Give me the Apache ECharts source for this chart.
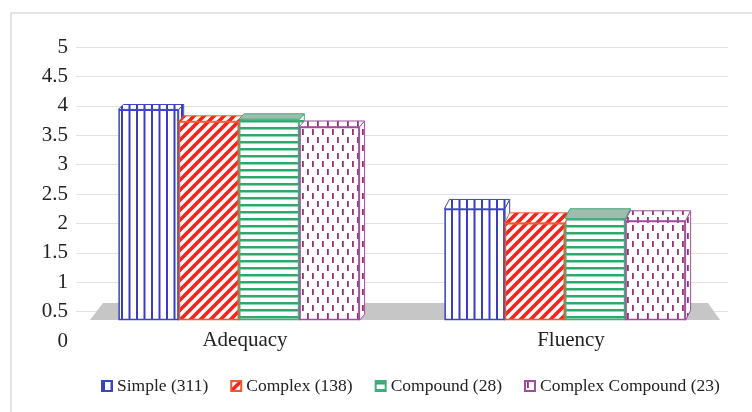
<!DOCTYPE html>
<html>
<head>
<meta charset="utf-8">
<script src="https://cdn.jsdelivr.net/npm/echarts@6/dist/echarts.min.js"></script>
<style>
    html, body { margin: 0; padding: 0; background: #fff; }
    #chart { width: 752px; height: 412px; }
</style>
</head>
<body>
<div id="chart"></div>
<script>
    // data
    var categories = ['Adequacy', 'Fluency'];
    var seriesNames = ['Simple (311)', 'Complex (138)', 'Compound (28)', 'Complex Compound (23)'];
    var simpleData = [3.90, 2.06];
    var complexData = [3.68, 1.80];
    var compoundData = [3.72, 1.88];
    var complexCompoundData = [3.58, 1.84];
    var yTicks = [0, 0.5, 1, 1.5, 2, 2.5, 3, 3.5, 4, 4.5, 5];

    var allData = [simpleData, complexData, compoundData, complexCompoundData];
    var CAT_GAP = 0.26;
    var FONT = '"Liberation Serif", "DejaVu Serif", serif';

    // small canvases used as fill patterns
    function makePattern(w, h, paint) {
        var c = document.createElement('canvas');
        c.width = w;
        c.height = h;
        var ctx = c.getContext('2d');
        ctx.fillStyle = '#ffffff';
        ctx.fillRect(0, 0, w, h);
        paint(ctx);
        return {image: c, repeat: 'repeat'};
    }

    var patterns = [
        // vertical blue lines
        makePattern(15, 4, function (ctx) {
            ctx.fillStyle = '#3b3cc0';
            ctx.fillRect(1, 0, 2, 4);
            ctx.fillRect(8.5, 0, 2, 4);
        }),
        // red diagonal stripes
        makePattern(10, 10, function (ctx) {
            ctx.strokeStyle = '#f5231c';
            ctx.lineWidth = 3.6;
            ctx.beginPath();
            ctx.moveTo(-5, 5); ctx.lineTo(5, -5);
            ctx.moveTo(0, 10); ctx.lineTo(10, 0);
            ctx.moveTo(5, 15); ctx.lineTo(15, 5);
            ctx.stroke();
        }),
        // green horizontal lines
        makePattern(4, 7, function (ctx) {
            ctx.fillStyle = '#2fa86c';
            ctx.fillRect(0, 1, 4, 2.5);
        }),
        // purple short dashes
        makePattern(10, 16, function (ctx) {
            ctx.fillStyle = '#9c2f72';
            ctx.fillRect(2, 1, 1.8, 6);
            ctx.fillRect(7, 9, 1.8, 6);
        })
    ];
    var borders = ['#3a44c6', '#ef5a2c', '#40ae7c', '#a04c9e'];

    // bars live on a hidden axis whose zero sits on the front of the floor
    var BAR_MIN = -0.386;
    var BAR_MAX = 5.055;

    function barBox(api, cat, val, idx) {
        var base = api.coord([cat, 0]);
        var band = api.size([1, 0])[0];
        var groupW = band * (1 - CAT_GAP);
        var bw = groupW / 4;
        var x0 = base[0] - groupW / 2 + idx * bw;
        var top = api.coord([cat, val])[1];
        return {x0: x0, x1: x0 + bw, top: top, bottom: base[1]};
    }

    var faceData = [];
    allData.forEach(function (arr, idx) {
        arr.forEach(function (v, cat) {
            faceData.push([cat, v, idx]);
        });
    });

    function renderTop(params, api) {
        var idx = api.value(2);
        var b = barBox(api, api.value(0), api.value(1), idx);
        var dy = b.top * 0.045, dx = 5;
        return {
            type: 'polygon',
            shape: {points: [[b.x0, b.top], [b.x1, b.top], [b.x1 + dx, b.top - dy], [b.x0 + dx, b.top - dy]]},
            style: {fill: idx === 2 ? '#9fbcae' : patterns[idx], stroke: borders[idx], lineWidth: 1}
        };
    }

    function renderSide(params, api) {
        var idx = api.value(2);
        var b = barBox(api, api.value(0), api.value(1), idx);
        var dy = b.top * 0.045, dx = 5;
        return {
            type: 'polygon',
            shape: {points: [[b.x1, b.top], [b.x1 + dx, b.top - dy], [b.x1 + dx, b.bottom - dy], [b.x1, b.bottom]]},
            style: {fill: patterns[idx], stroke: borders[idx], lineWidth: 1}
        };
    }

    var series = allData.map(function (arr, idx) {
        return {
            name: seriesNames[idx],
            type: 'bar',
            yAxisIndex: 1,
            data: arr,
            barGap: '0%',
            barCategoryGap: (CAT_GAP * 100) + '%',
            z: 2,
            itemStyle: {
                color: patterns[idx],
                borderColor: borders[idx],
                borderWidth: 1.5
            }
        };
    });
    series.push({
        name: 'sides', type: 'custom', yAxisIndex: 1, z: 1,
        data: faceData, renderItem: renderSide, silent: true
    });
    series.push({
        name: 'tops', type: 'custom', yAxisIndex: 1, z: 3,
        data: faceData, renderItem: renderTop, silent: true
    });

    var chart = echarts.init(document.getElementById('chart'));
    chart.setOption({
        animation: false,
        backgroundColor: '#ffffff',
        grid: {left: 76, right: 24, top: 47, bottom: 71},
        graphic: [
            {
                type: 'rect', z: -1,
                shape: {x: 11, y: 13, width: 760, height: 420},
                style: {fill: 'none', stroke: '#dcdcdc', lineWidth: 1.5}
            },
            {
                // grey floor of the 3D plot
                type: 'polygon', z: 1,
                shape: {points: [[103, 303], [708, 303], [720, 320], [90, 320]]},
                style: {fill: '#c6c6c6'}
            }
        ],
        legend: {
            data: seriesNames,
            left: 96,
            top: 372,
            icon: 'rect',
            itemWidth: 10,
            itemHeight: 10,
            itemGap: 22,
            textStyle: {fontFamily: FONT, fontSize: 17.5, color: '#222'}
        },
        xAxis: {
            type: 'category',
            data: categories,
            axisLine: {show: false},
            axisTick: {show: false},
            axisLabel: {
                fontFamily: FONT, fontSize: 21, color: '#222',
                margin: -11, padding: [0, 0, 0, 12]
            }
        },
        yAxis: [
            {
                type: 'value',
                min: yTicks[0],
                max: yTicks[yTicks.length - 1],
                interval: 0.5,
                axisLine: {show: false},
                axisTick: {show: false},
                axisLabel: {fontFamily: FONT, fontSize: 21, color: '#222', margin: 8},
                splitLine: {
                    lineStyle: {
                        color: ['rgba(0,0,0,0)', '#e2e2e2', '#e2e2e2', '#e2e2e2', '#e2e2e2', '#e2e2e2',
                            '#e2e2e2', '#e2e2e2', '#e2e2e2', '#e2e2e2', '#e2e2e2'],
                        width: 1.2
                    }
                }
            },
            {
                type: 'value',
                min: BAR_MIN,
                max: BAR_MAX,
                show: false,
                splitLine: {show: false}
            }
        ],
        series: series
    });
</script>
</body>
</html>
